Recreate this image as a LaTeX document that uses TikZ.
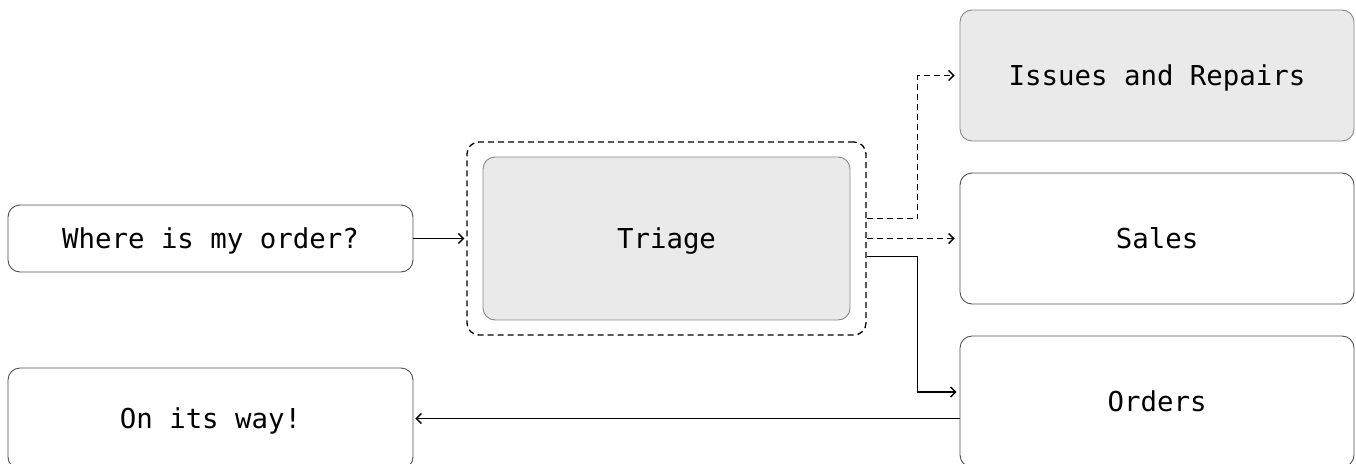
\documentclass[tikz,border=0pt]{standalone}
\usepackage{fontspec}
\setmonofont{DejaVu Sans Mono}
\usepackage{xcolor}
\usetikzlibrary{arrows.meta}

\definecolor{boxgray}{RGB}{234,234,234}
\definecolor{linegray}{RGB}{80,80,80}
\definecolor{shadegray}{RGB}{135,135,135}

\begin{document}
\begin{tikzpicture}[x=1pt, y=-1pt, every node/.style={font=\ttfamily\fontsize{27.4}{30}\selectfont, text height=20pt, text depth=0pt}]
\tikzset{plain/.style = {shape=rectangle, draw=linegray, line width=0.9pt, rounded corners=12pt, inner sep=0pt}}
\tikzset{shaded/.style = {plain, draw=shadegray, fill=boxgray}}
\tikzset{side/.style = {minimum width=405pt}}
\tikzset{team/.style = {minimum width=394pt, minimum height=131pt}}
\tikzset{edge/.style = {line width=1.4pt, -{Straight Barb[length=5pt,width=10pt]}}}
\tikzset{dashedge/.style = {edge, dash pattern=on 6pt off 4pt}}
\useasboundingbox (0,0) rectangle (1356,463);
% customer
\node[plain, side, minimum height=67pt] (question) at (210.5,238.5) {Where is my order?};
\node[plain, side, minimum height=101pt] (answer) at (210.5,418.5) {On its way!};
% triage
\node[shape=rectangle, draw, line width=1.3pt, dash pattern=on 6pt off 4pt, rounded corners=12pt,
      minimum width=399pt, minimum height=193pt] (outer) at (666.5,238.5) {};
\node[shaded, minimum width=367pt, minimum height=163pt] (triage) at (666.5,238.5) {Triage};
% teams
\node[shaded, team] (issues) at (1157,75.5) {Issues and Repairs};
\node[plain, team] (sales) at (1157,238.5) {Sales};
\node[plain, team] (orders) at (1157,401.5) {Orders};
%edges
\draw[edge, shorten >=2pt] (question) to (outer);
\draw[dashedge, shorten >=5pt] ([yshift=20pt]outer.east) -- ++(51,0) |- (issues.west);
\draw[dashedge, shorten >=5pt] (outer.east) -- (sales.west);
\draw[edge, shorten >=3pt] ([yshift=-18pt]outer.east) -- ++(51,0) |- ([yshift=9.5pt]orders.west);
\draw[edge, shorten >=2pt] (orders.west |- answer.east) -- (answer.east);

\end{tikzpicture}
\end{document}
